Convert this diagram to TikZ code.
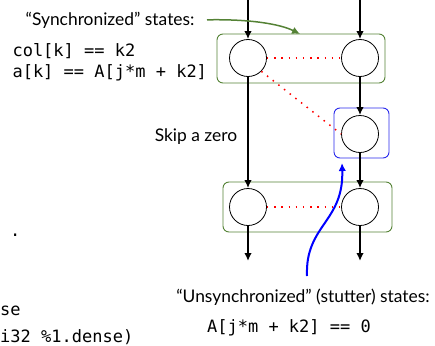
\documentclass[tikz,border=0pt]{standalone}
\usepackage{fontspec}
\setmainfont{Lato}
\setmonofont{DejaVu Sans Mono}
\usetikzlibrary{arrows.meta}
\definecolor{syncgreen}{RGB}{84,130,53}
\definecolor{stutterblue}{RGB}{40,40,235}
\begin{document}
\begin{tikzpicture}[>={Latex[length=8pt,width=7.5pt]},x=1pt,y=-1pt,
	state/.style={draw,circle,minimum size=37pt,inner sep=0pt,line width=0.8pt},
	flow/.style={->,line width=1.8pt},
	pair/.style={red,line width=1.5pt,dash pattern=on 1.5pt off 5.7pt},
	syncbox/.style={draw=syncgreen,line width=0.9pt,rounded corners=6pt},
	label/.style={font=\fontsize{17.4}{20}\selectfont},
	code/.style={font=\fontsize{17}{21}\selectfont\ttfamily,align=left}]
	\useasboundingbox (0,0) rectangle (435,345);
	% two walkers, one per column
	\node[state] (t1) at (248,58) {};
	\node[state] (t2) at (360,58) {};
	\node[state] (u) at (360,134) {};
	\node[state] (b1) at (248,207) {};
	\node[state] (b2) at (360,207) {};
	\draw[syncbox] (217,34) rectangle (385,83);
	\draw[syncbox] (223,182) rectangle (392,232);
	\draw[draw=stutterblue,line width=0.9pt,rounded corners=6pt] (334,108) rectangle (389,158);
	% arrows along each column
	\coordinate (in1) at (248,0);
	\coordinate (in2) at (360,0);
	\coordinate (out1) at (248,261);
	\coordinate (out2) at (360,261);
	\draw[flow] (in1) -- (t1);
	\draw[flow] (in2) -- (t2);
	\draw[flow] (t1) -- (b1);
	\draw[flow] (t2) -- (u);
	\draw[flow] (u) -- (b2);
	\draw[flow] (b1) -- (out1);
	\draw[flow] (b2) -- (out2);
	% which states are paired
	\draw[pair] (t1) -- (t2);
	\draw[pair] (t1.south east) -- (u.west);
	\draw[pair] (b1) -- (b2);
	% labels
	\node[label,anchor=east] (synctext) at (198,20) {“Synchronized” states:};
	\node[code,anchor=west] (synccode) at (9,62) {col[k] == k2\\a[k] == A[j*m + k2]};
	\node[label] (skip) at (196,137) {Skip a zero};
	\node[label] (stuttertext) at (303,297) {“Unsynchronized” (stutter) states:};
	\node[code] (stuttercode) at (289,328) {A[j*m + k2] == 0};
	\coordinate (stutterfoot) at (307,276);
	\coordinate (stuttertip) at (342,163);
	\draw[->,syncgreen,line width=1.5pt,shorten <=9pt] (synctext.east) .. controls (250,19) and (280,24) .. (300,34);
	\draw[->,blue,line width=2pt] (stutterfoot) .. controls (305,225) and (344,222) .. (stuttertip);
	% leftover code on the slide
	\node[code,anchor=west,inner sep=0pt] (dot) at (10,235) {.};
	\node[code,anchor=west,inner sep=0pt] (se) at (0,311) {se};
	\node[code,anchor=west,inner sep=0pt] (dense) at (0,337) {i32 \%1.dense)};
\end{tikzpicture}
\end{document}
